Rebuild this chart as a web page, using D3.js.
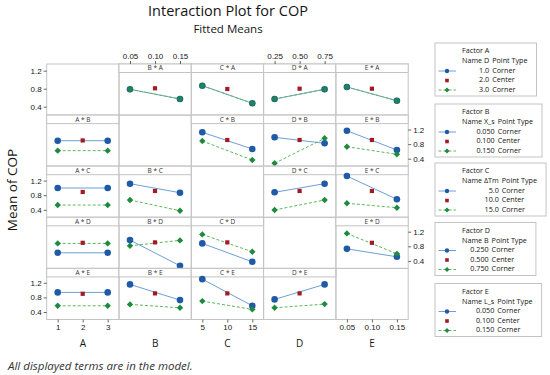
<!DOCTYPE html>
<html><head><meta charset="utf-8">
<script src="https://cdn.jsdelivr.net/npm/d3@7"></script>
<style>
body{margin:0;background:#fff;}
svg{display:block;font-family:"Open Sans","Noto Sans",sans-serif;}
</style></head>
<body>
<svg id="chart" width="550" height="375"></svg>
<script>
// ---------- data ----------
const factors = ["A","B","C","D","E"];
const factorNames = ["D","X_s","ΔTm","B","L_s"];
const levelLabels = [["1.0","2.0","3.0"],["0.050","0.100","0.150"],["5.0","10.0","15.0"],["0.250","0.500","0.750"],["0.050","0.100","0.150"]];
const pointTypes = ["Corner","Center","Corner"];
const xLevels = [[1,2,3],[0.05,0.10,0.15],[5,10,15],[0.25,0.50,0.75],[0.05,0.10,0.15]];
const xTickLabels = [["1","2","3"],["0.05","0.10","0.15"],["5","10","15"],["0.25","0.50","0.75"],["0.05","0.10","0.15"]];
const yTicks = [0.4, 0.8, 1.2];
// row = trace factor (legend), column = x-axis factor; [at low x, at high x]
const lowMeans = [
  [null,[0.787,0.571],[0.867,0.476],[0.571,0.787],[0.838,0.533]],
  [[0.893,0.893],null,[1.123,0.666],[0.986,0.822],[1.167,0.638]],
  [[0.997,0.997],[1.115,0.868],null,[0.879,1.115],[1.326,0.688]],
  [[0.622,0.622],[0.970,0.266],[0.879,0.375],null,[0.730,0.512]],
  [[0.937,0.937],[1.156,0.726],[1.300,0.570],[0.745,1.156],null]
];
const highMeans = [
  [null,[0.787,0.571],[0.867,0.476],[0.571,0.787],[0.838,0.533]],
  [[0.620,0.620],null,[0.885,0.364],[0.274,0.959],[0.729,0.520]],
  [[0.530,0.530],[0.668,0.375],null,[0.395,0.668],[0.578,0.458]],
  [[0.879,0.879],[0.814,0.962],[1.126,0.649],null,[1.153,0.594]],
  [[0.570,0.570],[0.608,0.515],[0.699,0.471],[0.515,0.616],null]
];
const centerMeans = [
  [null,0.809,0.793,0.800,0.800],
  [0.900,null,0.912,0.912,0.912],
  [0.888,0.915,null,0.915,0.915],
  [0.896,0.907,0.907,null,0.896],
  [0.899,0.910,0.910,0.910,null]
];

// ---------- layout ----------
const svg = d3.select("#chart");
const gridL = 46.7, colW = 72.3, gridT = 64, rowH = 51.1, stripH = 8.5;
const gridR = gridL + 5*colW, gridB = gridT + 5*rowH;
const C = {blueM:"#1f5aa6", blueL:"#6d9fd6", red:"#a01c22", greenM:"#1e8a3e", greenL:"#5cb85c", border:"#c4c4c4", text:"#151515"};

const xs = xLevels.map((lv,c)=>d3.scaleLinear().domain([lv[0],lv[2]]).range([gridL+c*colW+11, gridL+c*colW+61]));
const ys = factors.map((f,r)=>{
  const T = gridT + r*rowH;
  return r===0 ? d3.scaleLinear().domain([0.4,1.2]).range([T+42.7,T+6.7])
               : d3.scaleLinear().domain([0.4,1.2]).range([T+43.6,T+14.4]);
});

// title
svg.append("text").attr("x",228).attr("y",16).attr("text-anchor","middle")
  .attr("font-size",14.5).attr("font-weight",500).attr("fill",C.text).text("Interaction Plot for COP");
svg.append("text").attr("x",228).attr("y",32.5).attr("text-anchor","middle")
  .attr("font-size",11.5).attr("font-weight",500).attr("fill",C.text).text("Fitted Means");

// panels
const g = svg.append("g");
const diamond = d3.symbol().type(d3.symbolDiamond2).size(26);
for (let r=0;r<5;r++){
  for (let c=0;c<5;c++){
    const x0 = gridL + c*colW, y0 = gridT + r*rowH;
    g.append("rect").attr("x",x0).attr("y",y0).attr("width",colW).attr("height",rowH)
      .attr("fill","none").attr("stroke",C.border);
    if (r===c) continue;
    g.append("rect").attr("x",x0).attr("y",y0).attr("width",colW).attr("height",stripH)
      .attr("fill","#fff").attr("stroke",C.border);
    g.append("text").attr("x",x0+colW/2).attr("y",y0+stripH/2+0.5).attr("text-anchor","middle")
      .attr("dominant-baseline","middle").attr("font-size",6.5).attr("fill","#333")
      .text(factors[c]+" * "+factors[r]);
    const x = xs[c], y = ys[r], lv = xLevels[c];
    const lo = lowMeans[r][c], hi = highMeans[r][c], ce = centerMeans[r][c];
    const line = d3.line().x(d=>x(d[0])).y(d=>y(d[1]));
    g.append("path").attr("d",line([[lv[0],lo[0]],[lv[2],lo[1]]])).attr("stroke",C.blueL).attr("stroke-width",1).attr("fill","none");
    g.append("path").attr("d",line([[lv[0],hi[0]],[lv[2],hi[1]]])).attr("stroke",C.greenL).attr("stroke-width",1)
      .attr("stroke-dasharray","3,2").attr("fill","none");
    [[lv[0],lo[0]],[lv[2],lo[1]]].forEach(d=>g.append("circle").attr("cx",x(d[0])).attr("cy",y(d[1])).attr("r",3.3).attr("fill",C.blueM));
    g.append("rect").attr("x",x(lv[1])-2.1).attr("y",y(ce)-2.1).attr("width",4.2).attr("height",4.2).attr("fill",C.red);
    [[lv[0],hi[0]],[lv[2],hi[1]]].forEach(d=>g.append("path").attr("d",diamond()).attr("transform",`translate(${x(d[0])},${y(d[1])})`).attr("fill",C.greenM));
  }
}

// axes
function styleAxis(sel){
  sel.select(".domain").remove();
  sel.selectAll(".tick line").attr("stroke","#666");
  sel.selectAll(".tick text").attr("font-size",8).attr("fill",C.text).attr("font-family",null);
}
factors.forEach((f,r)=>{
  const left = (r%2===0);
  const ax = (left? d3.axisLeft(ys[r]) : d3.axisRight(ys[r])).tickValues(yTicks).tickSize(3).tickPadding(2).tickFormat(d3.format(".1f"));
  svg.append("g").attr("transform",`translate(${left?gridL:gridR},0)`).call(ax).call(styleAxis);
});
factors.forEach((f,c)=>{
  const bottom = (c%2===0);
  const ax = (bottom? d3.axisBottom(xs[c]) : d3.axisTop(xs[c])).tickValues(xLevels[c]).tickSize(3).tickPadding(2)
     .tickFormat((d,i)=>xTickLabels[c][i]);
  svg.append("g").attr("transform",`translate(0,${bottom?gridB:gridT})`).call(ax).call(styleAxis);
  svg.append("text").attr("x",gridL+c*colW+colW/2).attr("y",347).attr("text-anchor","middle")
    .attr("font-size",10).attr("fill",C.text).text(f);
});

// y title
svg.append("text").attr("transform","translate(17,190) rotate(-90)").attr("text-anchor","middle")
  .attr("font-size",13.5).attr("fill",C.text).text("Mean of COP");

// footnote
svg.append("text").attr("x",8).attr("y",369.5).attr("font-size",11.5).attr("font-style","italic")
  .attr("fill","#333").text("All displayed terms are in the model.");

// legends
const legTops = [43,104,163,222.5,283.5];
factors.forEach((f,k)=>{
  const top = legTops[k], lx = 435, tx = 462;
  const lg = svg.append("g");
  const box = lg.append("rect").attr("x",lx).attr("y",top).attr("height",53).attr("fill","#fff").attr("stroke",C.border);
  const fs = 7.2;
  lg.append("text").attr("x",tx).attr("y",top+8.5).attr("dominant-baseline","middle").attr("font-size",fs).attr("fill",C.text).text("Factor "+f);
  const hdr = lg.append("text").attr("x",tx).attr("y",top+18.3).attr("dominant-baseline","middle").attr("font-size",fs).attr("fill",C.text).text("Name "+factorNames[k]);
  const colR = tx + hdr.node().getComputedTextLength();
  const pt = lg.append("text").attr("x",colR+3).attr("y",top+18.3).attr("dominant-baseline","middle").attr("font-size",fs).attr("fill",C.text).text("Point Type");
  const right = Math.min(548, colR+3+pt.node().getComputedTextLength()+9);
  box.attr("width",right-lx);
  const rowsY = [top+28,top+37.5,top+47];
  levelLabels[k].forEach((lab,i)=>{
    lg.append("text").attr("x",colR).attr("y",rowsY[i]).attr("text-anchor","end").attr("dominant-baseline","middle").attr("font-size",fs).attr("fill",C.text).text(lab);
    lg.append("text").attr("x",colR+3).attr("y",rowsY[i]).attr("dominant-baseline","middle").attr("font-size",fs).attr("fill",C.text).text(pointTypes[i]);
  });
  const sx0 = 438.5, sx1 = 456, sm = 447;
  lg.append("line").attr("x1",sx0).attr("x2",sx1).attr("y1",rowsY[0]).attr("y2",rowsY[0]).attr("stroke",C.blueL);
  lg.append("circle").attr("cx",sm).attr("cy",rowsY[0]).attr("r",2.2).attr("fill",C.blueM);
  lg.append("rect").attr("x",sm-1.8).attr("y",rowsY[1]-1.8).attr("width",3.6).attr("height",3.6).attr("fill",C.red);
  lg.append("line").attr("x1",sx0).attr("x2",sx1).attr("y1",rowsY[2]).attr("y2",rowsY[2]).attr("stroke",C.greenL).attr("stroke-dasharray","3,2");
  lg.append("path").attr("d",d3.symbol().type(d3.symbolDiamond2).size(16)()).attr("transform",`translate(${sm},${rowsY[2]})`).attr("fill",C.greenM);
});
</script>
</body></html>
